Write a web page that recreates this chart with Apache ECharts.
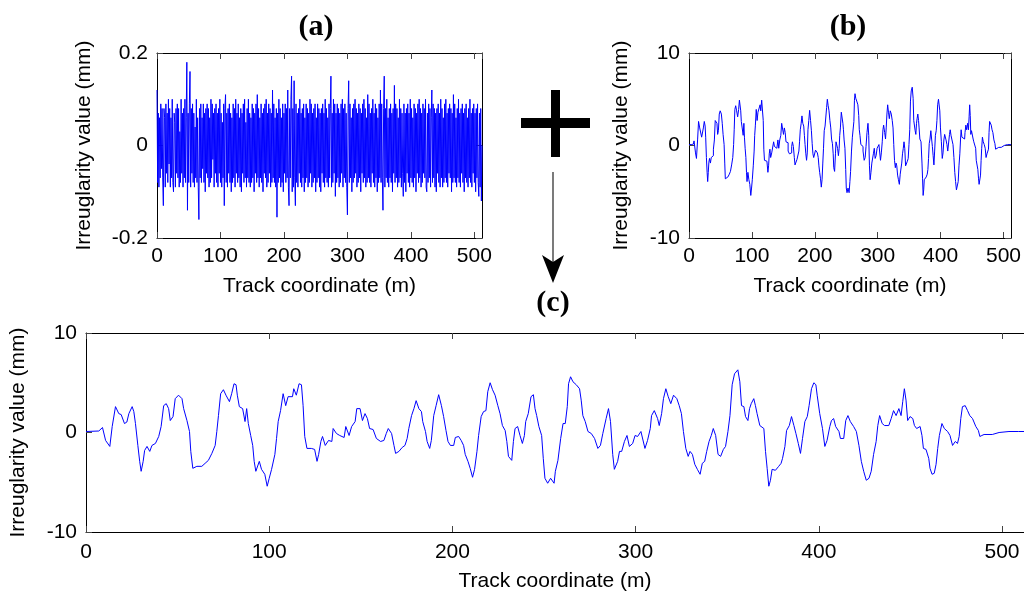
<!DOCTYPE html>
<html><head><meta charset="utf-8">
<script src="https://cdn.jsdelivr.net/npm/echarts@6/dist/echarts.min.js"></script>
<style>html,body{margin:0;padding:0;background:#fff}#c{width:1024px;height:594px}</style>
</head><body><div id="c"></div>
<script>
// ---------- data ----------
const xTickValues = [0, 100, 200, 300, 400, 500];
const yTicksA = [-0.2, 0, 0.2];
const yTicksBC = [-10, 0, 10];
const xLabel = 'Track coordinate (m)';
const yLabel = 'Irreuglarity value (mm)';
const panelTitles = ['(a)', '(b)', '(c)'];

// (a) high-frequency irregularity, sampled every 1 m from 0 m
const aSampleStep = 1;
const aValues = [
  0.12,-0.08,0.07,-0.09,0.06,-0.07,0.09,-0.05,0.08,-0.07,-0.13,0.08,0.06,-0.09,0.09,-0.06,
  0.07,-0.08,0.10,-0.04,0.08,-0.09,0.06,-0.07,0.10,-0.08,-0.10,0.07,0.05,-0.09,0.08,-0.06,
  0.09,-0.07,0.08,-0.09,0.03,-0.08,0.10,-0.06,0.07,-0.09,0.08,-0.07,0.10,-0.08,0.06,0.18,
  -0.14,0.07,-0.08,0.09,0.16,-0.09,0.08,-0.06,0.09,-0.08,0.07,-0.09,0.04,-0.07,0.10,-0.08,
  0.06,-0.09,-0.16,0.08,-0.07,0.09,-0.08,0.06,-0.05,0.09,-0.08,0.07,-0.10,0.08,-0.06,0.09,
  -0.07,0.08,-0.09,0.06,-0.08,0.10,-0.07,0.09,-0.03,0.07,-0.09,0.08,-0.06,0.09,-0.08,0.07,
  -0.09,0.08,-0.06,0.10,-0.08,0.07,-0.09,0.05,-0.07,0.09,-0.13,0.08,0.11,-0.08,0.07,-0.09,
  0.08,-0.06,0.09,-0.08,0.07,-0.10,0.06,-0.08,0.09,-0.07,0.08,-0.09,0.10,-0.06,0.07,-0.08,
  0.09,-0.07,0.06,-0.09,0.08,-0.10,0.07,-0.06,0.09,-0.08,0.10,-0.07,0.05,-0.09,0.08,-0.07,
  0.10,-0.08,0.07,-0.09,0.06,-0.08,0.09,-0.07,0.08,-0.10,0.07,-0.06,0.09,-0.08,0.11,-0.07,
  0.08,-0.09,0.06,-0.07,0.09,-0.08,0.07,-0.10,0.08,-0.06,0.09,-0.07,0.10,-0.09,0.07,-0.08,
  0.09,-0.06,0.08,-0.09,0.07,-0.08,0.12,-0.07,0.09,-0.08,0.06,-0.09,0.08,-0.155,0.07,-0.08,
  0.10,-0.07,0.08,-0.09,0.06,-0.08,0.09,-0.10,0.07,-0.06,0.09,-0.08,0.08,-0.07,0.12,-0.09,
  -0.13,0.08,-0.07,0.10,0.15,-0.10,0.08,-0.09,0.14,-0.07,-0.13,0.09,-0.08,0.07,-0.09,0.08,
  -0.06,0.10,-0.08,0.07,-0.09,0.08,-0.07,0.09,-0.10,0.06,-0.08,0.09,-0.07,0.08,-0.09,0.07,
  -0.08,0.10,-0.06,0.09,-0.09,0.07,-0.08,0.08,-0.07,0.09,-0.10,0.06,-0.08,0.09,-0.07,0.08,
  -0.09,0.07,-0.10,0.08,-0.06,0.09,-0.08,0.07,-0.09,0.10,-0.07,0.08,-0.08,0.06,-0.09,0.09,
  -0.07,0.08,0.15,-0.09,0.07,-0.08,0.10,-0.06,0.09,-0.11,0.07,-0.08,0.09,-0.07,0.08,-0.09,
  0.07,-0.08,0.09,-0.06,0.10,-0.09,0.08,-0.07,0.09,-0.08,0.07,-0.09,-0.15,0.08,0.14,-0.08,
  0.09,-0.07,0.06,-0.10,0.08,-0.08,0.09,-0.07,0.10,-0.06,0.08,-0.09,0.07,-0.08,0.09,-0.07,
  0.08,-0.10,0.07,-0.06,0.09,-0.08,0.10,-0.07,0.08,-0.09,0.06,-0.08,0.11,-0.07,0.09,-0.08,
  0.07,-0.09,0.08,-0.06,0.10,-0.08,0.07,-0.09,0.09,-0.07,0.08,-0.10,0.06,-0.08,0.09,-0.07,
  0.12,-0.08,0.09,-0.07,-0.14,0.08,0.15,-0.09,0.08,-0.07,0.10,-0.08,0.06,-0.09,0.08,-0.07,
  0.09,-0.08,0.07,-0.10,0.08,-0.06,0.13,-0.08,0.09,-0.07,0.08,-0.09,0.06,-0.08,0.10,-0.07,
  0.08,-0.09,0.07,-0.06,-0.11,0.09,-0.08,0.07,-0.10,0.08,-0.06,0.09,-0.08,0.07,-0.09,0.10,
  -0.07,0.08,-0.08,0.06,-0.09,0.09,-0.07,0.08,-0.10,0.07,-0.06,0.09,-0.08,0.10,-0.07,0.08,
  -0.09,0.07,-0.08,0.09,-0.06,0.08,-0.07,0.10,-0.09,-0.10,0.07,-0.08,0.09,-0.07,0.08,-0.09,
  0.06,0.12,-0.08,0.09,-0.07,0.08,-0.09,0.07,-0.10,0.08,-0.06,0.09,-0.08,0.07,-0.09,0.10,
  -0.07,0.08,-0.09,0.06,-0.08,0.09,-0.07,0.10,-0.08,0.07,-0.09,0.08,-0.06,0.09,-0.07,0.08,
  -0.10,0.07,-0.08,0.11,-0.07,0.09,-0.08,0.06,-0.09,0.08,-0.07,0.10,-0.08,0.07,-0.09,0.08,
  -0.06,0.09,-0.08,0.07,-0.10,0.08,-0.07,0.09,-0.08,0.06,-0.09,0.08,-0.07,0.10,-0.08,0.07,
  -0.09,0.08,-0.06,0.09,-0.08,0.07,-0.10,0.08,-0.07,0.09,-0.08,-0.11,0.07,-0.09,0.08,-0.12,
  0.00
];

// (b)/(c) low-frequency irregularity (the added (a) part is below one pixel at this scale)
const bcPositions = [
  0,7,9,10,10.7,13,14.3,16.1,17.9,19.2,21,22.3,23.4,25.2,26.1,27,28.3,29.3,30.1,31.2,
  32,33.3,34.8,36,37.9,39.7,41,42.4,43.8,45.1,46,47.5,48.7,50.5,52.4,53.3,55.1,56.5,57.2,58.3,
  60.5,63.2,65,66.8,68.7,70.5,71.4,72.3,73.5,75,76.4,78.3,79.5,80.8,81.9,82.6,83.7,85.5,86.8,87.7,
  88.6,89.9,91,91.8,92.7,94.6,95.8,97.6,98.9,100,101.3,103.1,104,104.9,106.2,107.6,109,110.3,112.7,113.4,
  114.8,116.3,117.6,118.5,119.4,120.6,123,124.8,126.1,127,128.2,129.1,130.6,132.4,134.2,134.9,136.7,138.5,140.9,141.8,
  143.6,145,146.9,147.8,149.6,150.9,152.3,153.6,154.8,156.7,158.5,160.8,162.6,163.9,165,166.8,168.1,169,170.8,172.6,
  174.1,175.3,176.2,177.7,179,180.2,181.7,183.1,183.8,185.3,186.2,187.6,188.5,189.8,191.1,192.5,194,195.2,196.5,197.6,
  198.9,200.7,201.6,203.4,204.8,206.1,207,208.5,209.7,211,212.1,213.4,214.3,215.7,217,218.3,219.3,220.6,221.9,223.3,
  224.8,226,227.3,228.8,229.7,230.6,232.4,233.3,234.2,235.6,236.9,238.2,239.3,240,241.4,242.9,244.2,245.1,246,247.2,
  248.7,249.6,250.5,252,253.6,255.5,256.2,257.6,259.1,260.4,261.6,262.7,263.4,264.5,265.8,267.6,269.4,270.3,271.2,272.5,
  274,275.8,277.6,279.4,280.8,282.1,283.9,285.2,286.3,287.5,288.4,290.2,291.2,292.4,293.9,295.3,296.6,298.4,299.7,301.1,
  302.9,303.8,305.1,306.5,308,308.7,310.2,312,312.9,314.2,315.2,316.5,317.8,319.2,320.7,322.5,323.8,325,326.1,327.4,
  328.7,329.7,331,332.3,333.7,335.2,336.4,337.7,338.8,340.1,341.3,342.4,343.7,345,346.4,347.9,349.1,350.4,351.5,352.7,
  354,355.8,356.9,357.8,359.1,360,361.3,362.2,363.1,364.5,365.4,366.3,367.8,370,370.9,371.8,372.7,373.6,374.5,376.3,
  378.1,379.4,380.2,381.5,382.4,383.9,385.1,386.4,387.5,388.8,390,391.1,392.4,393.7,394.7,396,397.3,398.4,399.1,400.5,
  402,403.3,404.5,406,406.9,408.1,409.2,411,411.8,413.6,414.7,415.9,417.2,419,420.5,421.9,423.2,424.5,425.9,427.4,
  428.6,429.9,431.3,432.2,433.2,434.6,435.9,438.2,439.5,440.8,442.2,443.7,444.9,445.8,446.7,447.6,448.5,449.8,451.3,452.2,
  453.4,455.3,456.3,457.1,458.5,460,460.7,461.8,463,464,464.9,465.8,467.2,468.5,470.3,471.6,473,474.5,475.7,476.6,
  477.5,478.4,479.9,481.2,482.4,483.9,485.7,487.1,487.9,489,490.2,494.7,498.4,503.8,508.9,512
];
const bcValues = [
  0.1,0.15,0.5,0.7,-0.8,-1.4,0.6,2.6,1.9,1.8,0.9,1.05,1.9,2.6,2.1,0.9,-1.3,-2.9,-3.9,-2.9,
  -1.8,-1.4,-1.9,-1.3,-1.1,-0.4,0.6,2.7,2.9,2.4,1.2,1.6,3.4,3.75,3.4,2.4,1.2,0.1,-1.9,-3.6,
  -3.4,-3.4,-3.1,-2.8,-2.1,-1.3,0.1,1.7,3.9,4.3,3.75,3.1,3.9,4.9,4.8,3.75,2.6,2.4,1.1,2.4,
  0.9,-0.3,-1.3,-2.9,-3.9,-2.9,-3.7,-4.2,-5.4,-4.6,-3.7,-2.2,-0.6,1.1,2.2,3.9,2.7,3.6,3.6,4.4,
  3.75,4.9,4.8,2.7,-0.4,-1.6,-1.6,-1.7,-2.9,-2.2,-0.9,-0.4,-1.3,-0.8,-0.9,0.4,-0.1,-0.3,-0.5,0.6,
  -0.3,0.6,1.1,2.4,2.4,1.2,1.9,1.4,0.4,0.3,-0.6,-0.9,-0.8,-0.1,0.4,-0.1,-1.3,-2.1,-1.9,-1.5,
  -1.3,-0.6,0.4,1.7,2.4,3.2,2.4,2.1,1.1,0.1,-0.9,-1.6,-0.8,1.7,2.7,3.8,2.7,1.6,0.2,-0.9,
  -1.3,-1.3,-0.5,-0.4,-0.8,-1.3,-2.2,-2.9,-3.6,-4.5,-3.7,-1.9,-0.3,1.6,2.1,2.2,4.1,5.0,4.3,3.75,
  2.7,1.9,0.7,0.2,-0.9,-2.4,-2.8,-0.9,0.4,0.6,-0.3,-1.1,-0.3,1.1,1.9,3.6,3.8,2.4,1.7,0.6,
  -0.3,-2.6,-4.6,-5.1,-4.6,-5.1,-3.9,-2.8,-0.6,0.9,0.9,2.6,4.9,5.6,5.1,4.8,4.4,3.25,1.7,1.1,
  0.1,-0.1,-0.6,-1.6,-1.3,-0.1,1.4,2.4,1.1,-2.2,-3.7,-2.9,-1.9,-1.9,-0.9,-0.3,-1.4,-1.1,-0.3,-0.4,
  0.1,0.2,-1.6,-0.8,0.4,1.7,2.2,1.4,0.7,1.9,3.4,4.4,3.6,2.9,3.75,3.4,2.7,1.9,0.1,-1.6,
  -2.4,-1.9,-2.2,-3.2,-3.7,-4.2,-3.1,-2.9,-1.9,-0.9,-0.3,0.4,-0.3,-2.2,-2.4,-1.7,-1.4,0.1,1.7,4.8,
  5.9,6.3,5.1,2.7,2.6,1.6,1.2,2.4,2.9,3.4,2.7,1.9,0.7,0.4,-1.9,-3.6,-5.4,-4.8,-3.7,-3.8,
  -3.4,-3.1,-2.6,-1.4,0.2,0.7,1.6,0.7,-0.1,-1.1,-2.1,-0.6,1.1,1.6,2.7,4.4,5.0,4.8,3.75,1.9,
  0.4,-1.4,-0.8,0.6,1.2,1.4,0.6,0.1,-0.6,-0.6,1.2,1.7,1.1,0.6,0.1,-1.3,-2.9,-3.9,-4.8,-4.6,
  -3.9,-2.2,-0.9,0.7,1.7,0.9,0.7,0.7,1.4,2.2,1.7,2.4,1.7,3.1,4.4,3.25,1.2,1.6,1.4,0.7,
  0.4,0.6,-0.3,-1.6,-1.7,-2.6,-3.6,-4.2,-4.1,-3.2,-1.6,-0.3,0.9,0.4,0.1,-0.3,-1.3,-0.9,-1.1,-0.4,
  1.4,2.6,2.7,2.2,1.7,1.4,0.6,0.2,-0.4,-0.3,-0.2,-0.2,0.0,0.1,0.1,0.1
];

// ---------- chart ----------
const FONT = '"Liberation Sans", Arial, sans-serif';
const aData = aValues.map((v, i) => [i * aSampleStep, v]);
const bcData = bcPositions.map((m, i) => [m, bcValues[i]]);

const grids = [
  { left: 157, top: 53, width: 325, height: 185 },
  { left: 689, top: 53, width: 324, height: 185 },
  { left: 86, top: 333, width: 942, height: 199 }
];
const yRanges = [yTicksA, yTicksBC, yTicksBC];

const xAxes = [], yAxes = [];
grids.forEach((g, i) => {
  const labelOn = {
    show: true, color: '#000', fontSize: 21, fontFamily: FONT, margin: i === 2 ? 10 : 8,
    showMaxLabel: false,
    formatter: v => (xTickValues.indexOf(v) >= 0 ? String(v) : '')
  };
  xAxes.push({
    type: 'value', gridIndex: i, position: 'bottom', min: 0, max: 512, interval: 100,
    name: xLabel, nameLocation: 'middle', nameGap: i === 2 ? 39 : 38,
    nameTextStyle: { color: '#000', fontSize: 21, fontFamily: FONT },
    axisLine: { show: true, onZero: false, lineStyle: { color: '#000', width: 1 } },
    axisTick: { show: true, inside: true, length: 6, lineStyle: { color: '#444' } },
    axisLabel: labelOn, splitLine: { show: false }
  });
  xAxes.push({
    type: 'value', gridIndex: i, position: 'top', min: 0, max: 512, interval: 100,
    axisLine: { show: true, onZero: false, lineStyle: { color: '#000', width: 1 } },
    axisTick: { show: true, inside: true, length: 6, lineStyle: { color: '#444' } },
    axisLabel: { show: false }, splitLine: { show: false }
  });
  const yr = yRanges[i];
  const yInterval = yr[1] - yr[0];
  yAxes.push({
    type: 'value', gridIndex: i, position: 'left', min: yr[0], max: yr[2], interval: yInterval,
    name: yLabel, nameLocation: 'middle', nameGap: i === 0 ? 62 : 57,
    nameTextStyle: { color: '#000', fontSize: 21, fontFamily: FONT },
    axisLine: { show: true, onZero: false, lineStyle: { color: '#000', width: 1 } },
    axisTick: { show: true, inside: true, length: 6, lineStyle: { color: '#444' } },
    axisLabel: { show: true, color: '#000', fontSize: 21, fontFamily: FONT, margin: 9,
      formatter: v => (Math.abs(v) < 1e-9 ? '0' : String(v)) },
    splitLine: { show: false }
  });
  yAxes.push({
    type: 'value', gridIndex: i, position: 'right', min: yr[0], max: yr[2], interval: yInterval,
    axisLine: { show: true, onZero: false, lineStyle: { color: '#000', width: 1 } },
    axisTick: { show: i !== 2, inside: true, length: 6, lineStyle: { color: '#444' } },
    axisLabel: { show: false }, splitLine: { show: false }
  });
});

const lineSeries = (i, data, step) => ({
  type: 'line', xAxisIndex: i * 2, yAxisIndex: i * 2, data,
  showSymbol: false, symbol: 'none', clip: true, animation: false, step,
  lineStyle: { color: '#0000ff', width: 1 }
});

const titlePos = [[316, 27], [848, 27], [553, 303]];
const graphic = titlePos.map((p, i) => ({
  type: 'text', x: p[0], y: p[1], silent: true,
  style: { text: panelTitles[i], font: 'bold 30px "Liberation Serif", "Times New Roman", serif',
    fill: '#000', align: 'center', verticalAlign: 'middle' }
}));
// plus sign
graphic.push({ type: 'rect', shape: { x: 521, y: 118, width: 69, height: 10 }, style: { fill: '#000' }, silent: true });
graphic.push({ type: 'rect', shape: { x: 551, y: 90, width: 9, height: 67 }, style: { fill: '#000' }, silent: true });
// arrow
graphic.push({ type: 'line', shape: { x1: 553, y1: 172, x2: 553, y2: 262 }, style: { stroke: '#222', lineWidth: 1.2 }, silent: true });
graphic.push({ type: 'polygon', shape: { points: [[542, 255], [553, 262], [564, 255], [553, 283]] }, style: { fill: '#000' }, silent: true });

const chart = echarts.init(document.getElementById('c'), null, { renderer: 'canvas' });
chart.setOption({
  animation: false,
  backgroundColor: '#fff',
  grid: grids.map(g => Object.assign({ containLabel: false, show: false }, g)),
  xAxis: xAxes,
  yAxis: yAxes,
  series: [lineSeries(0, aData, false), lineSeries(1, bcData, 'middle'), lineSeries(2, bcData, false)],
  graphic
});
</script>
</body></html>
